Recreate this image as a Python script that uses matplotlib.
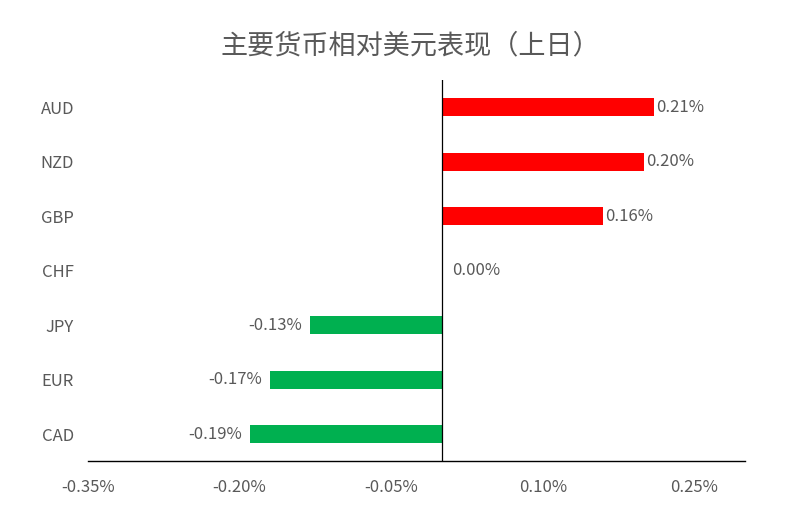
import matplotlib
matplotlib.use("Agg")
import matplotlib.pyplot as plt
from matplotlib.ticker import FixedLocator, FuncFormatter

plt.rcParams['font.family'] = ['Noto Sans CJK SC', 'DejaVu Sans']

title = "主要货币相对美元表现（上日）"
currencies = ["AUD", "NZD", "GBP", "CHF", "JPY", "EUR", "CAD"]
values = [0.21, 0.20, 0.16, 0.00, -0.13, -0.17, -0.19]
ticks = [-0.35, -0.20, -0.05, 0.10, 0.25]

fig = plt.figure(figsize=(7.85, 5.29), dpi=100)
ax = fig.add_axes([0.112, 0.128, 0.837, 0.721])

gray = "#595959"
colors = ["#FF0000" if v > 0 else "#00B050" for v in values]
ypos = list(range(len(currencies)))[::-1]
ax.barh(ypos, values, height=0.33, color=colors, zorder=2)

for y, v in zip(ypos, values):
    if v >= 0:
        ax.text(v + 0.002 if v > 0 else 0.01, y, f"{v:.2f}%", va="center", ha="left",
                fontsize=12, color=gray)
    else:
        ax.text(v - 0.008, y, f"{v:.2f}%", va="center", ha="right",
                fontsize=12, color=gray)

ax.set_xlim(-0.35, 0.30)
ax.set_ylim(-0.5, len(currencies) - 0.5)
ax.xaxis.set_major_locator(FixedLocator(ticks))
ax.xaxis.set_major_formatter(FuncFormatter(lambda x, p: f"{x:.2f}%"))
ax.set_yticks(ypos)
ax.set_yticklabels(currencies)

for s in ["top", "right", "left"]:
    ax.spines[s].set_visible(False)
ax.spines["bottom"].set_color("black")
ax.spines["bottom"].set_linewidth(1.0)
ax.axvline(0, color="black", linewidth=0.9, zorder=3)

ax.tick_params(axis="x", length=0, labelsize=12, labelcolor=gray, pad=13)
ax.tick_params(axis="y", length=0, labelsize=12, labelcolor=gray, pad=10)

fig.text(0.523, 0.913, title, ha="center", va="center", fontsize=19.5, color=gray)

fig.savefig("out.png", dpi=100, facecolor="white")
